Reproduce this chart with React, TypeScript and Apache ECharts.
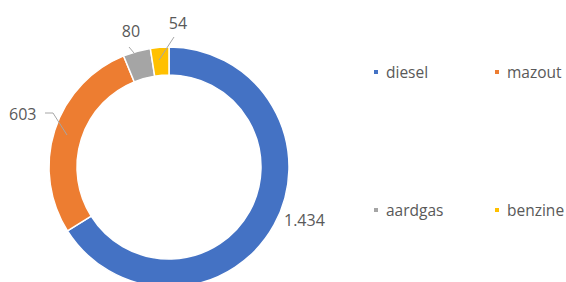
import React, { useEffect, useRef } from "react";
import * as echarts from "echarts";

const categories = ["diesel", "mazout", "aardgas", "benzine"];
const values = [1434, 603, 80, 54];
const colors = ["#4472C4", "#ED7D31", "#A5A5A5", "#FFC000"];

const fmt = (v: number) => String(v).replace(/\B(?=(\d{3})+(?!\d))/g, ".");

const FONT = "'Open Sans', sans-serif";
const TEXT = "#595959";

export default function App() {
  const ref = useRef<HTMLDivElement>(null);
  useEffect(() => {
    if (!ref.current) return;
    const chart = echarts.init(ref.current, null, { renderer: "svg" });
    const labelPos = [
      { x: 284, y: 220, align: "left" },
      { x: 9, y: 114, align: "left" },
      { x: 131, y: 31, align: "center" },
      { x: 178, y: 23, align: "center" },
    ];
    const leaderLines = [
      [[67, 135], [53, 113], [45, 113]],
      [[134, 53], [129, 47]],
      [[159, 60], [174, 37]],
    ];
    const legendPos = [
      { left: 372, top: 64 },
      { left: 493, top: 64 },
      { left: 372, top: 202 },
      { left: 493, top: 202 },
    ];
    chart.setOption({
      animation: false,
      color: colors,
      graphic: leaderLines.map((pts) => ({
        type: "polyline",
        z: 100,
        silent: true,
        shape: { points: pts },
        style: { stroke: "#A6A6A6", lineWidth: 1, fill: null },
      })),
      legend: categories.map((c, i) => ({
        data: [c],
        left: legendPos[i].left,
        top: legendPos[i].top,
        padding: 0,
        icon: "rect",
        itemWidth: 6,
        itemHeight: 6,
        selectedMode: false,
        textStyle: {
          fontFamily: FONT,
          fontSize: 15.5,
          color: TEXT,
          lineHeight: 16,
          padding: [0, 0, 0, 2],
        },
      })),
      series: [
        {
          type: "pie",
          center: [169, 167],
          radius: [92, 120],
          startAngle: 90,
          clockwise: true,
          silent: true,
          avoidLabelOverlap: false,
          itemStyle: { borderColor: "#ffffff", borderWidth: 1.5 },
          label: {
            show: true,
            position: "outside",
            formatter: (p: any) => fmt(p.value),
            fontFamily: FONT,
            fontSize: 16,
            color: TEXT,
          },
          labelLine: { show: false },
          labelLayout: (params: any) => {
            const lp = labelPos[params.dataIndex];
            return {
              x: lp.x,
              y: lp.y,
              align: lp.align,
              verticalAlign: "middle",
              hideOverlap: false,
            };
          },
          data: categories.map((c, i) => ({ name: c, value: values[i] })),
        },
      ],
    });
    return () => chart.dispose();
  }, []);
  return (
    <div
      ref={ref}
      style={{ position: "absolute", left: 0, top: 0, width: 566, height: 282, background: "#fff" }}
    />
  );
}
